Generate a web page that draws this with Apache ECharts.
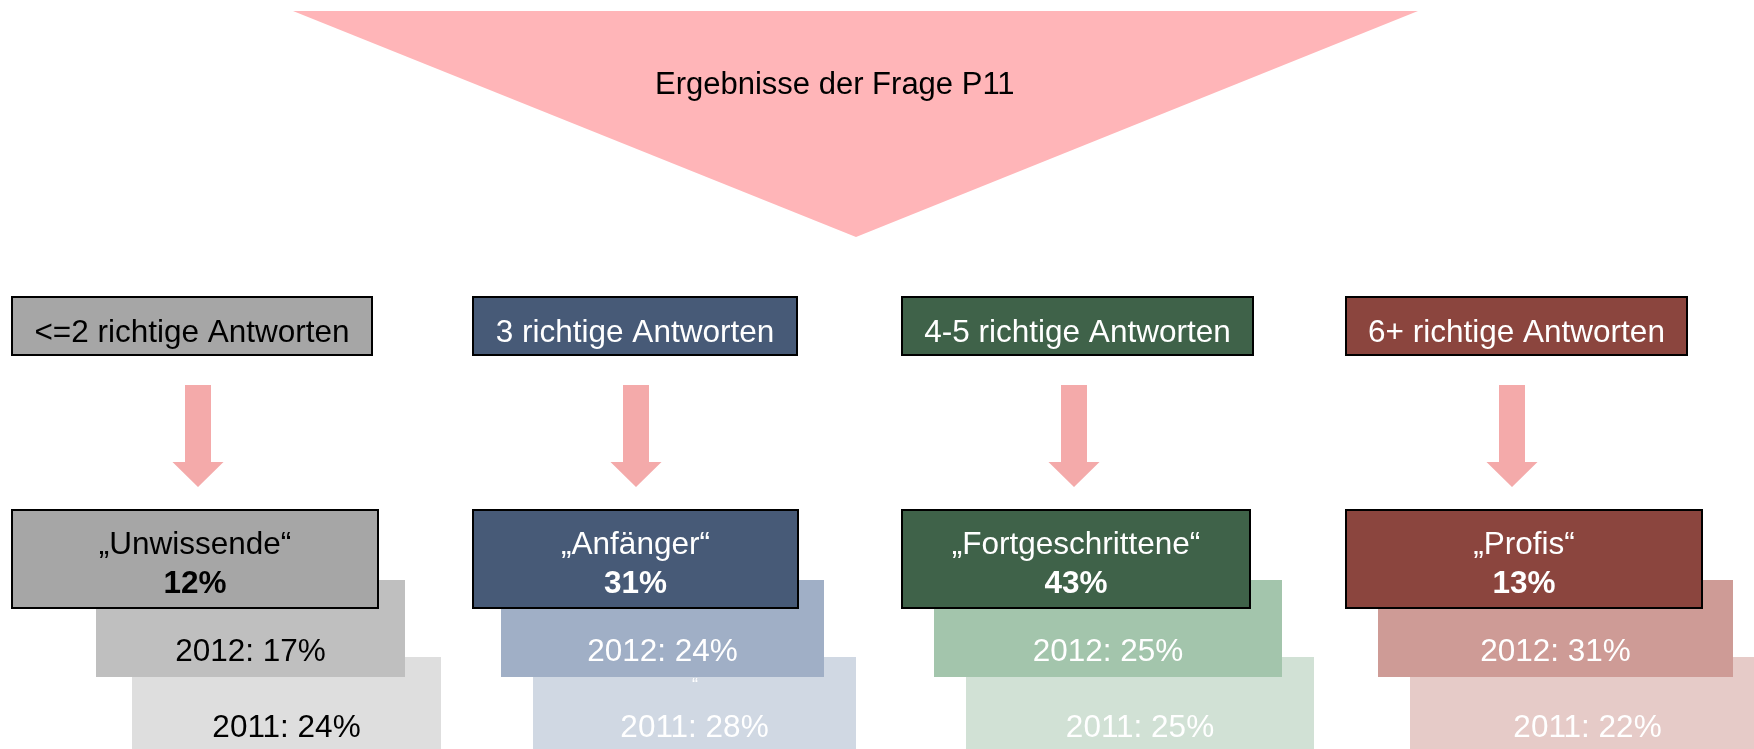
<!DOCTYPE html>
<html>
<head>
<meta charset="utf-8">
<script src="https://cdn.jsdelivr.net/npm/echarts@6/dist/echarts.min.js"></script>
<style>
html,body{margin:0;padding:0;background:#fff;}
#chart{width:1754px;height:749px;}
</style>
</head>
<body>
<div id="chart"></div>
<script>
// ---- data ----
const titleText = 'Ergebnisse der Frage P11';
const groups = ['<=2 richtige Antworten', '3 richtige Antworten', '4-5 richtige Antworten', '6+ richtige Antworten'];
const segmentLabels = ['\u201EUnwissende\u201C', '\u201EAnf\u00E4nger\u201C', '\u201EFortgeschrittene\u201C', '\u201EProfis\u201C'];
const values2013 = [12, 31, 43, 13];
const values2012 = [17, 24, 25, 31];
const values2011 = [24, 28, 25, 22];

// ---- layout (positions / sizes) ----
const headerX = [12, 473, 902, 1346];
const headerW = [360, 324, 351, 341];
const headerY = 297, headerH = 58;
const mainX = [12, 473, 902, 1346];
const mainW = [366, 325, 348, 356];
const mainY = 510, mainH = 98;
const off2012 = [84, 28, 32, 32];
const off2011 = [120, 60, 64, 64];
const w2012 = [309, 323, 348, 355];
const w2011 = [309, 323, 348, 355];
const y2012 = 580, h2012 = 97;
const y2011 = 657, h2011 = 100;
const arrowCX = [198, 636, 1074, 1512];

// ---- styles ----
const darkColors = ['#A6A6A6', '#475A77', '#3F6249', '#8B453E'];
const midColors = ['#BFBFBF', '#A0AFC6', '#A3C5AC', '#CE9B96'];
const lightColors = ['#DEDEDE', '#D0D8E3', '#D1E1D5', '#E6CBC8'];
const textDark = ['#000', '#fff', '#fff', '#fff'];
const textMid = ['#000', '#fff', '#fff', '#fff'];
const textLight = ['#000', '#fff', '#fff', '#fff'];
const FONT = '"Liberation Sans", Arial, sans-serif';
const FS = '31.5px ';

const elements = [];
// big triangle
elements.push({
  type: 'polygon',
  shape: { points: [[293, 11], [1418, 11], [856, 237]] },
  style: { fill: '#FFB5B8' }
});
elements.push({
  type: 'text', x: 655, y: 85,
  style: { text: titleText, fill: '#000', font: '31px ' + FONT, align: 'left', verticalAlign: 'middle' }
});

groups.forEach(function (g, i) {
  // header box
  elements.push({
    type: 'rect',
    shape: { x: headerX[i], y: headerY, width: headerW[i], height: headerH },
    style: { fill: darkColors[i], stroke: '#000', lineWidth: 2 }
  });
  elements.push({
    type: 'text', x: headerX[i] + headerW[i] / 2, y: 333,
    style: { text: g, fill: textDark[i], font: FS + FONT, align: 'center', verticalAlign: 'middle' }
  });
  // arrow
  const cx = arrowCX[i];
  elements.push({
    type: 'polygon',
    shape: { points: [[cx - 13, 385], [cx + 13, 385], [cx + 13, 462], [cx + 25.5, 462], [cx, 487], [cx - 25.5, 462], [cx - 13, 462]] },
    style: { fill: '#F4AAAA' }
  });
  // 2011 box
  const x11 = mainX[i] + off2011[i];
  elements.push({
    type: 'rect',
    shape: { x: x11, y: y2011, width: w2011[i], height: h2011 },
    style: { fill: lightColors[i] }
  });
  elements.push({
    type: 'text', x: x11 + w2011[i] / 2, y: 728.5,
    style: { text: '2011: ' + values2011[i] + '%', fill: textLight[i], font: FS + FONT, align: 'center', verticalAlign: 'middle' }
  });
  // 2012 box
  const x12 = mainX[i] + off2012[i];
  elements.push({
    type: 'rect',
    shape: { x: x12, y: y2012, width: w2012[i], height: h2012 },
    style: { fill: midColors[i] }
  });
  elements.push({
    type: 'text', x: x12 + w2012[i] / 2, y: 652,
    style: { text: '2012: ' + values2012[i] + '%', fill: textMid[i], font: FS + FONT, align: 'center', verticalAlign: 'middle' }
  });
  // main box
  elements.push({
    type: 'rect',
    shape: { x: mainX[i], y: mainY, width: mainW[i], height: mainH },
    style: { fill: darkColors[i], stroke: '#000', lineWidth: 2 }
  });
  elements.push({
    type: 'text', x: mainX[i] + mainW[i] / 2, y: 545.5,
    style: { text: segmentLabels[i], fill: textDark[i], font: FS + FONT, align: 'center', verticalAlign: 'middle' }
  });
  elements.push({
    type: 'text', x: mainX[i] + mainW[i] / 2, y: 584,
    style: { text: values2013[i] + '%', fill: textDark[i], font: 'bold ' + FS + FONT, align: 'center', verticalAlign: 'middle' }
  });
});
// stray quote mark visible in the second column
elements.push({
  type: 'text', x: 695, y: 677,
  style: { text: '\u201C', fill: '#fff', font: '18px ' + FONT, align: 'center', verticalAlign: 'top' }
});

const chart = echarts.init(document.getElementById('chart'), null, { renderer: 'canvas' });
chart.setOption({
  backgroundColor: '#fff',
  animation: false,
  series: [],
  graphic: { elements: elements }
});
</script>
</body>
</html>
